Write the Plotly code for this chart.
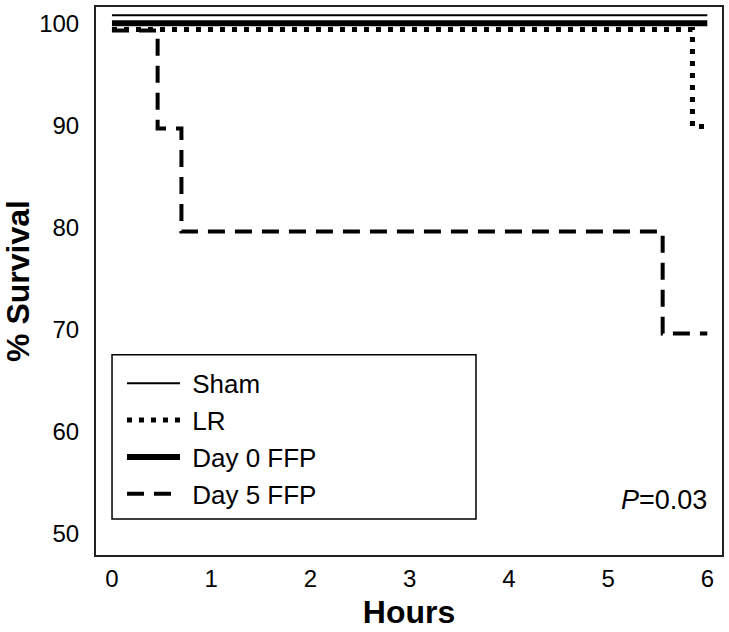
import plotly.graph_objects as go

# Kaplan-Meier step curves (values as drawn, small offsets keep overlapping lines visible)
sham_hours = [0, 6.0]
sham_survival = [100.8, 100.8]

lr_hours = [0, 5.85, 6.0]
lr_survival = [99.4, 89.9, 89.9]

day0_hours = [0, 6.0]
day0_survival = [100.0, 100.0]

day5_hours = [0, 0.46, 0.70, 5.55, 6.0]
day5_survival = [99.3, 89.7, 79.6, 69.6, 69.6]

x_ticks = [0, 1, 2, 3, 4, 5, 6]
y_ticks = [50, 60, 70, 80, 90, 100]

FONT = "Liberation Sans, Arial, sans-serif"

fig = go.Figure()

series = [
    ("Sham", sham_hours, sham_survival, dict(color="black", width=2, dash="solid")),
    ("LR", lr_hours, lr_survival, dict(color="black", width=5, dash="5px,7px")),
    ("Day 0 FFP", day0_hours, day0_survival, dict(color="black", width=6, dash="solid")),
    ("Day 5 FFP", day5_hours, day5_survival, dict(color="black", width=4, dash="17px,10px")),
]
for name, x, y, line in series:
    fig.add_trace(
        go.Scatter(
            x=x,
            y=y,
            mode="lines",
            line=dict(shape="hv", **line),
            name="\u00a0" + name,
        )
    )

# legend frame
fig.add_shape(
    type="rect",
    xref="paper",
    yref="paper",
    x0=0.0256,
    x1=0.607,
    y0=0.0655,
    y1=0.3655,
    line=dict(color="black", width=1.5),
    fillcolor="rgba(0,0,0,0)",
)

fig.add_annotation(
    xref="paper",
    yref="paper",
    x=0.98,
    y=0.10,
    xanchor="right",
    yanchor="middle",
    text="<i>P</i>=0.03",
    showarrow=False,
    font=dict(family=FONT, size=27, color="black"),
)

fig.update_layout(
    width=729,
    height=632,
    margin=dict(l=96, r=7, t=5, b=77, pad=0),
    plot_bgcolor="white",
    paper_bgcolor="white",
    font=dict(family=FONT, size=24, color="black"),
    legend=dict(
        x=0.0415,
        y=0.356,
        xanchor="left",
        yanchor="top",
        bgcolor="rgba(0,0,0,0)",
        borderwidth=0,
        font=dict(family=FONT, size=26, color="black"),
        itemwidth=53,
    ),
    xaxis=dict(
        range=[-0.161, 6.148],
        tickvals=x_ticks,
        ticks="",
        ticklabelstandoff=1,
        showgrid=False,
        zeroline=False,
        showline=True,
        mirror=True,
        linecolor="#222",
        linewidth=2,
        tickfont=dict(size=24),
        title=dict(text="<b>Hours</b>", font=dict(size=32), standoff=10),
    ),
    yaxis=dict(
        range=[47.9, 101.6],
        tickvals=y_ticks,
        ticks="",
        ticklabelstandoff=10,
        showgrid=False,
        zeroline=False,
        showline=True,
        mirror=True,
        linecolor="#222",
        linewidth=2,
        tickfont=dict(size=24),
        title=dict(text="<b>% Survival</b>", font=dict(size=32), standoff=8),
    ),
)

fig.write_html(
    "out.html",
    config={"displayModeBar": False},
    post_script="document.body.style.margin='0';",
)
